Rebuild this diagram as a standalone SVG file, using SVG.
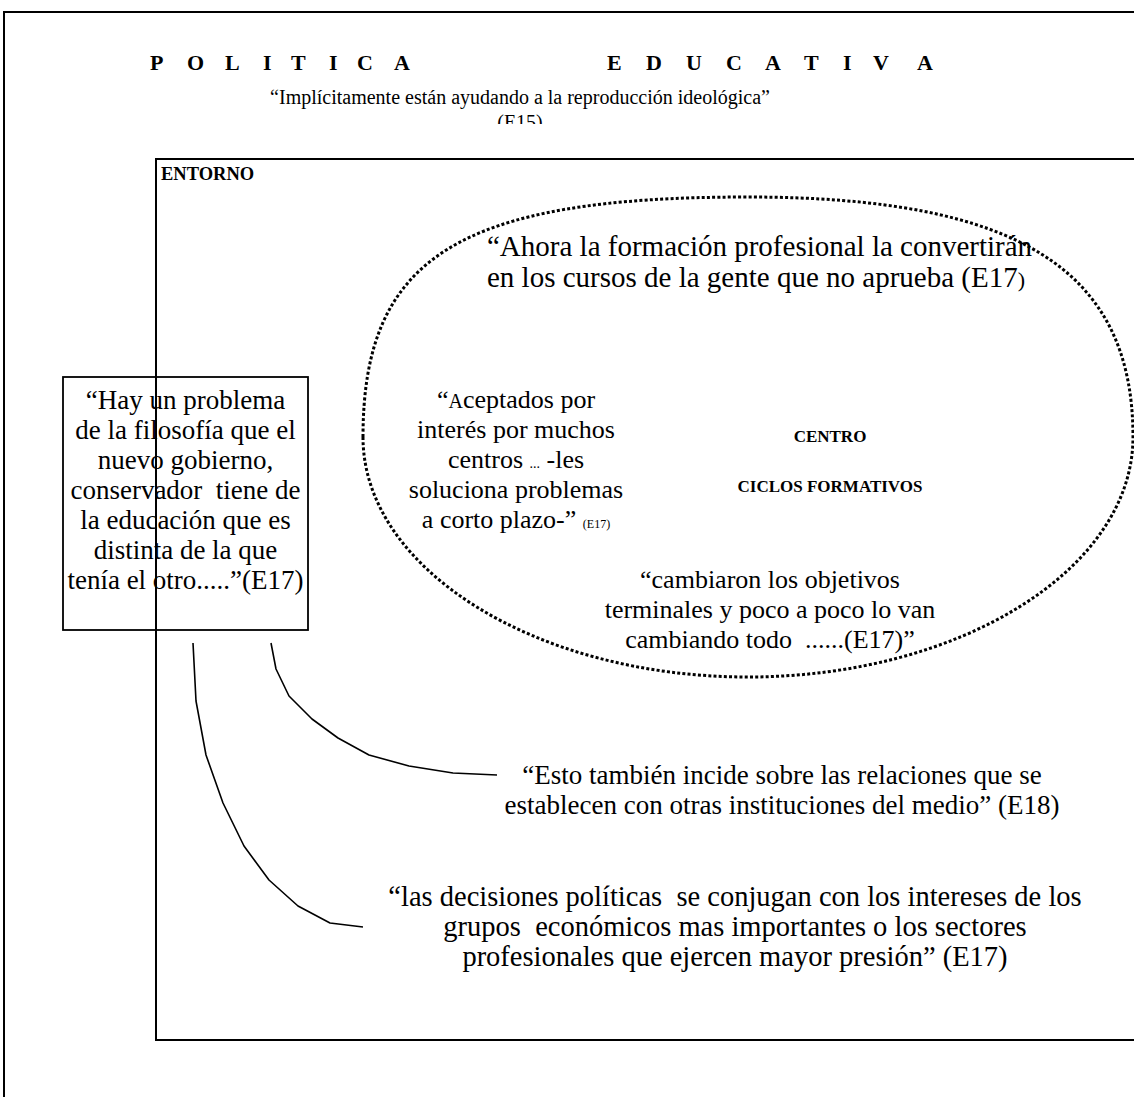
<svg xmlns="http://www.w3.org/2000/svg" width="1134" height="1097" viewBox="0 0 1134 1097">
  <style>
    .serif { font-family: "Liberation Serif", "Times New Roman", serif; fill: #000; }
    .title { font-size: 22px; font-weight: bold; }
    .quote { font-size: 26px; }
    .label { font-size: 17px; font-weight: bold; }
    .frame { fill: none; stroke: #000; stroke-width: 2; }
    .box { fill: none; stroke: #000; stroke-width: 1.8; }
    .dotted { fill: none; stroke: #000; stroke-width: 3; stroke-dasharray: 3 2.2; }
    .link { fill: none; stroke: #000; stroke-width: 1.6; stroke-linejoin: round; }
  </style>
  <defs>
    <clipPath id="cutE15">
      <rect x="0" y="0" width="1134" height="124"/>
    </clipPath>
  </defs>

  <rect width="1134" height="1097" fill="#fff"/>

  <!-- page frame -->
  <g id="page-frame">
    <path class="frame" d="M4 1097 V12 H1134"/>
  </g>

  <!-- heading -->
  <g id="heading" class="serif">
    <text class="title" y="70">
      <tspan x="150">P</tspan><tspan x="187">O</tspan><tspan x="225">L</tspan><tspan x="263">I</tspan><tspan x="291">T</tspan><tspan x="329">I</tspan><tspan x="357">C</tspan><tspan x="394">A</tspan>
      <tspan x="607">E</tspan><tspan x="646">D</tspan><tspan x="686">U</tspan><tspan x="726">C</tspan><tspan x="765">A</tspan><tspan x="804">T</tspan><tspan x="843">I</tspan><tspan x="873">V</tspan><tspan x="917">A</tspan>
    </text>
    <text x="520" y="104" text-anchor="middle" style="font-size:20px">“Implícitamente están ayudando a la reproducción ideológica”</text>
    <text x="520" y="129" text-anchor="middle" style="font-size:20px" clip-path="url(#cutE15)">(E15)</text>
  </g>

  <!-- surroundings frame -->
  <g id="entorno">
    <rect class="frame" x="156" y="159" width="1000" height="881"/>
    <text class="serif label" x="161" y="180" style="font-size:18.5px">ENTORNO</text>
  </g>

  <!-- centre / training cycles: hand-drawn oval, fuller at the top -->
  <g id="centro">
    <path class="dotted" d="M363,437 C363,257 459,197 748,197 C1017,197 1133,269 1133,437 C1133,569 960,677 748,677 C536,677 363,569 363,437 Z"/>
    <text class="serif label" x="830" y="442" text-anchor="middle">CENTRO</text>
    <text class="serif label" x="830" y="492" text-anchor="middle">CICLOS FORMATIVOS</text>
  </g>

  <g id="quote-ahora" class="serif quote" style="font-size:29px">
    <text x="487" y="256">“Ahora la formación profesional la convertirán</text>
    <text x="487" y="287">en los cursos de la gente que no aprueba (E17<tspan style="font-size:22px">)</tspan></text>
  </g>

  <g id="quote-aceptados" class="serif quote" text-anchor="middle">
    <text x="516" y="408">“<tspan style="font-size:20px">A</tspan>ceptados por</text>
    <text x="516" y="438">interés por muchos</text>
    <text x="516" y="468">centros <tspan style="font-size:14px">...</tspan> -les</text>
    <text x="516" y="498">soluciona problemas</text>
    <text x="516" y="528">a corto plazo-” <tspan style="font-size:12px">(E17)</tspan></text>
  </g>

  <g id="quote-cambiaron" class="serif quote" text-anchor="middle">
    <text x="770" y="588">“cambiaron los objetivos</text>
    <text x="770" y="618">terminales y poco a poco lo van</text>
    <text x="770" y="648" xml:space="preserve">cambiando todo  ......(E17)”</text>
  </g>

  <!-- government philosophy -->
  <g id="quote-gobierno">
    <rect class="box" x="63" y="377" width="245" height="253"/>
    <g class="serif quote" text-anchor="middle" style="font-size:27px">
      <text x="185.5" y="409">“Hay un problema</text>
      <text x="185.5" y="439">de la filosofía que el</text>
      <text x="185.5" y="469">nuevo gobierno,</text>
      <text x="185.5" y="499" xml:space="preserve">conservador  tiene de</text>
      <text x="185.5" y="529">la educación que es</text>
      <text x="185.5" y="559">distinta de la que</text>
      <text x="185.5" y="589">tenía el otro.....”(E17)</text>
    </g>
  </g>

  <g id="quote-relaciones" class="serif quote" text-anchor="middle" style="font-size:27px">
    <text x="782" y="784">“Esto también incide sobre las relaciones que se</text>
    <text x="782" y="814">establecen con otras instituciones del medio” (E18)</text>
  </g>

  <g id="quote-decisiones" class="serif quote" text-anchor="middle" style="font-size:28.5px">
    <text x="735" y="906" xml:space="preserve">“las decisiones políticas  se conjugan con los intereses de los</text>
    <text x="735" y="936" xml:space="preserve">grupos  económicos mas importantes o los sectores</text>
    <text x="735" y="966">profesionales que ejercen mayor presión” (E17)</text>
  </g>

  <!-- connectors -->
  <g id="connectors">
    <polyline class="link" points="271,643 276,669 289,696 312,719 338,738 369,755 409,766 453,773 497,775"/>
    <polyline class="link" points="193,643 196,701 206,755 223,803 244,846 269,880 298,906 330,923 363,927"/>
  </g>
</svg>
